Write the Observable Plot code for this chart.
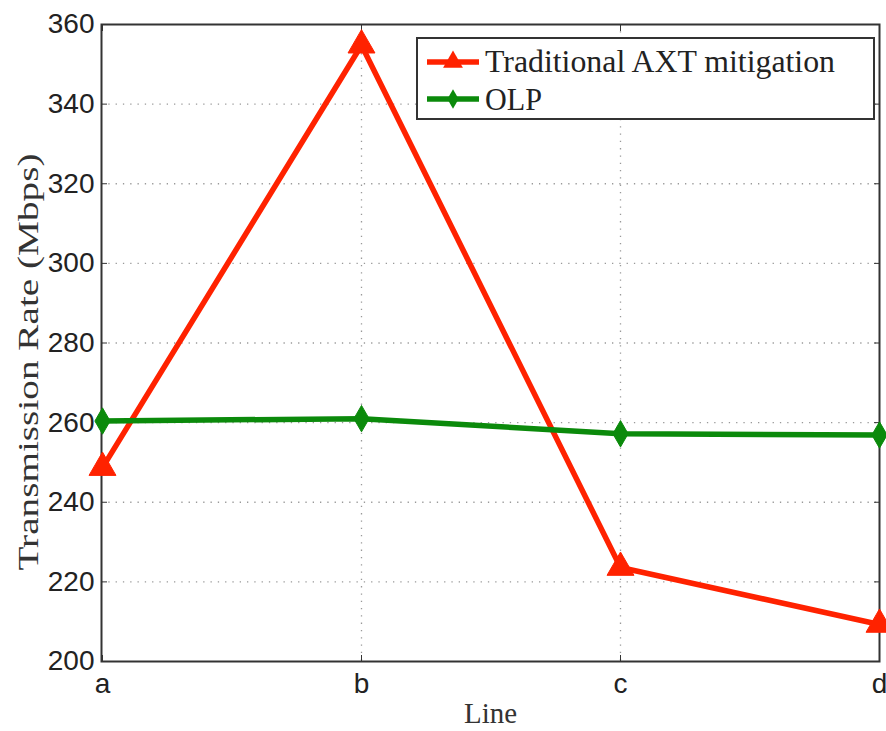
<!DOCTYPE html>
<html><head><meta charset="utf-8">
<script src="https://cdn.jsdelivr.net/npm/d3@7"></script>
<script src="https://cdn.jsdelivr.net/npm/@observablehq/plot@0.6"></script>
<style>
body{margin:0;background:#fff;}
#wrap{position:relative;width:886px;height:731px;}
#legend{position:absolute;left:0;top:0;}
</style></head><body>
<div id="wrap"></div>
<script>
const lines = ["a","b","c","d"];
const traditional = [248.7, 354.8, 223.6, 209.3];
const olp = [260.4, 261.0, 257.2, 256.9];
const yTicks = [200,220,240,260,280,300,320,340,360];
const seriesNames = ["Traditional AXT mitigation","OLP"];
const colors = ["#ff2200","#0b8a0b"];
const yTitle = "Transmission Rate (Mbps)";
const xTitle = "Line";

const data = [];
lines.forEach((l,i)=>{
  data.push({line:l, value:traditional[i], series:seriesNames[0]});
  data.push({line:l, value:olp[i], series:seriesNames[1]});
});
const tradData = data.filter(d=>d.series===seriesNames[0]);
const olpData = data.filter(d=>d.series===seriesNames[1]);

const sansFont = "'Liberation Sans', Arial, sans-serif";
const serifFont = "'Liberation Serif', 'DejaVu Serif', serif";

const chart = Plot.plot({
  width: 886, height: 731,
  marginLeft: 101, marginRight: 7, marginTop: 24, marginBottom: 70,
  style: {fontFamily: sansFont, fontSize: "28px", color: "#222", background: "#fff"},
  x: {type: "point", domain: lines, padding: 0, label: null},
  y: {domain: [200, 360], label: null},
  marks: [
    Plot.ruleY(yTicks.slice(1, -1), {stroke: "#999", strokeWidth: 1.3, strokeDasharray: "1.3,6"}),
    Plot.ruleX(lines.slice(1, -1), {stroke: "#999", strokeWidth: 1.3, strokeDasharray: "1.3,6"}),
    Plot.axisY({ticks: yTicks, tickSize: 0, tickPadding: 7, fontSize: 28, fontFamily: sansFont, label: null}),
    Plot.axisY({ticks: yTicks, tickSize: 6, dx: 6, text: null, label: null, stroke: "#333"}),
    Plot.axisY({ticks: yTicks, anchor: "right", tickSize: 6, dx: -6, text: null, label: null, stroke: "#333"}),
    Plot.axisX({tickSize: 0, tickPadding: 12, fontSize: 28, fontFamily: sansFont, label: null}),
    Plot.axisX({tickSize: 6, dy: -6, text: null, label: null, stroke: "#333"}),
    Plot.axisX({anchor: "top", tickSize: 6, dy: 6, text: null, label: null, stroke: "#333"}),
    Plot.frame({stroke: "#333", strokeWidth: 2}),
    Plot.line(tradData, {x: "line", y: "value", stroke: colors[0], strokeWidth: 5.5}),
    Plot.line(olpData, {x: "line", y: "value", stroke: colors[1], strokeWidth: 5.5}),
    Plot.dot(tradData, {x: "line", y: "value", symbol: "triangle", r: 10, fill: colors[0], stroke: colors[0], strokeWidth: 1}),
    Plot.dot(olpData, {x: "line", y: "value", symbol: "diamond", r: 8, fill: colors[1], stroke: colors[1], strokeWidth: 1}),
    Plot.text([yTitle], {frameAnchor: "left", textAnchor: "middle", dx: -73, dy: 19, rotate: -90, fontFamily: serifFont, fontSize: 29, fill: "#333"}),
    Plot.text([xTitle], {frameAnchor: "bottom", textAnchor: "middle", dy: 61, fontFamily: serifFont, fontSize: 30, fill: "#333"})
  ]
});
document.getElementById("wrap").appendChild(chart);

// widen serif titles to match the Computer Modern widths of the original
d3.select(chart).selectAll("text").each(function() {
  const t = this.textContent;
  if (t === yTitle) d3.select(this).attr("textLength", 417).attr("lengthAdjust", "spacingAndGlyphs");
  if (t === xTitle) d3.select(this).attr("textLength", 53).attr("lengthAdjust", "spacingAndGlyphs");
});

// legend overlay
const lg = d3.select("#wrap").append("svg").attr("id","legend")
  .attr("width", 886).attr("height", 731)
  .style("pointer-events","none");
lg.append("rect").attr("x", 417).attr("y", 38).attr("width", 457).attr("height", 81)
  .attr("fill", "#fff").attr("stroke", "#333").attr("stroke-width", 2);
const rows = [{y: 62, sym: d3.symbolTriangle, size: 170, base: 72, len: 350},
              {y: 99, sym: d3.symbolDiamond, size: 110, base: 110, len: 57}];
seriesNames.forEach((name, i) => {
  const g = lg.append("g");
  g.append("line").attr("x1", 427).attr("x2", 479).attr("y1", rows[i].y).attr("y2", rows[i].y)
    .attr("stroke", colors[i]).attr("stroke-width", 5.5);
  g.append("path").attr("d", d3.symbol(rows[i].sym, rows[i].size)())
    .attr("transform", `translate(453,${rows[i].y})`).attr("fill", colors[i]);
  g.append("text").attr("x", 485).attr("y", rows[i].base).text(name)
    .attr("font-family", serifFont).attr("font-size", 31).attr("fill", "#222")
    .attr("textLength", rows[i].len).attr("lengthAdjust", "spacingAndGlyphs");
});
</script>
</body></html>
